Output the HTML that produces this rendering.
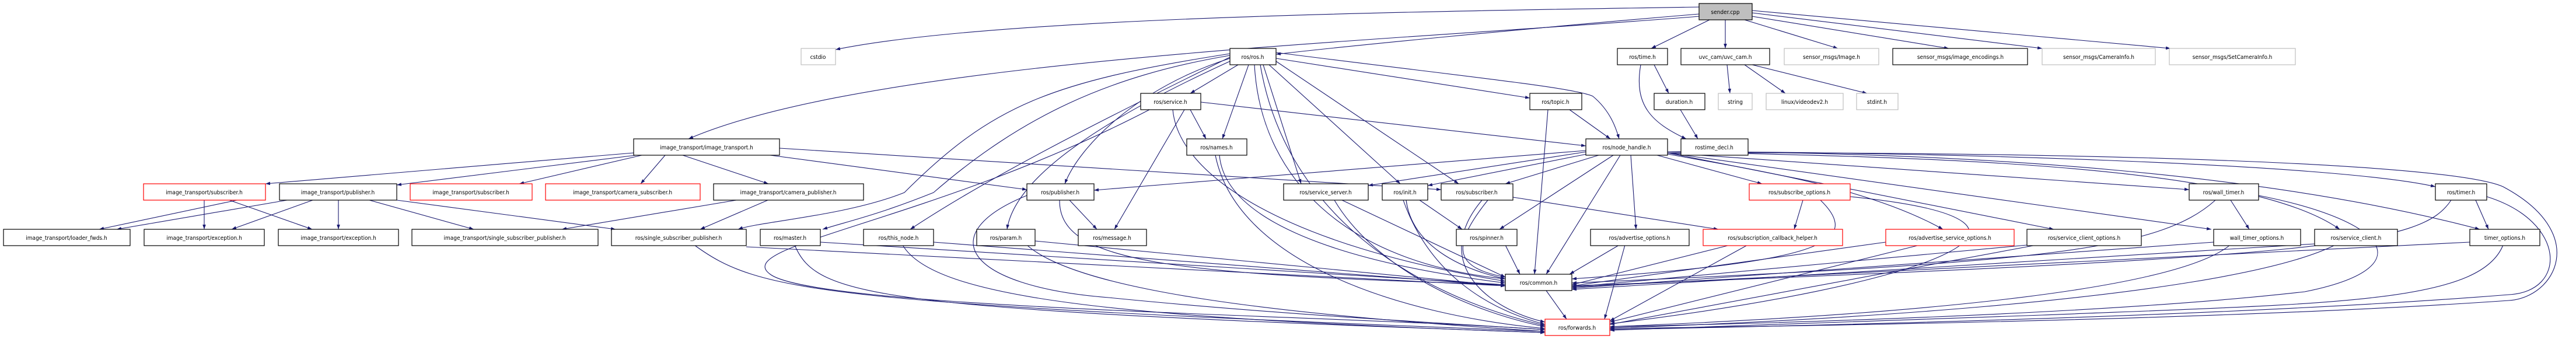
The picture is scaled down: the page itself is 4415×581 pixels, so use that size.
<!DOCTYPE html>
<html><head><meta charset="utf-8"><style>
html,body{margin:0;padding:0;background:#fff;}
svg{display:block;}
text{font-family:"DejaVu Sans Condensed","DejaVu Sans","Liberation Sans",sans-serif;font-size:10px;fill:#000;}
.e{fill:none;stroke:#191970;stroke-width:1.1;marker-end:url(#a);}
.n{fill:#fff;stroke:#000;stroke-width:1.2;}
.r{fill:#fff;stroke:#ff0000;stroke-width:1.2;}
.g{fill:#fff;stroke:#bfbfbf;stroke-width:1.2;}
</style></head><body>
<svg width="4415" height="581" viewBox="0 0 4415 581" xmlns="http://www.w3.org/2000/svg">
<defs><marker id="a" viewBox="0 0 10 7" refX="10" refY="3.5" markerWidth="8" markerHeight="6" markerUnits="userSpaceOnUse" orient="auto"><path d="M0,0 L10,3.5 L0,7 z" fill="#191970"/></marker></defs>
<g>
<path class="e" d="M2912,12 C2400,20 1700,30 1432,85"/>
<path class="e" d="M2912,24 C2600,50 2300,80 2187,93"/>
<path class="e" d="M2912,28 C2400,70 1500,100 1180,238"/>
<path class="e" d="M2930,34 L2830,83"/>
<path class="e" d="M2957,34 L2957,83"/>
<path class="e" d="M2990,34 L3150,83"/>
<path class="e" d="M3003,28 L3340,83"/>
<path class="e" d="M3003,22 L3500,83"/>
<path class="e" d="M3003,18 L3720,83"/>
<path class="e" d="M2122,111 L2040,160"/>
<path class="e" d="M2140,111 L2095,238"/>
<path class="e" d="M2108,100 C1950,150 1850,250 1825,315"/>
<path class="e" d="M2108,95 C1900,130 1750,200 1600,330 C1500,370 1450,380 1410,393"/>
<path class="e" d="M2108,98 C1900,200 1700,300 1560,393"/>
<path class="e" d="M2108,105 C1900,200 1740,300 1726,393"/>
<path class="e" d="M2108,92 C1800,140 1700,180 1550,330 C1450,370 1300,380 1265,393"/>
<path class="e" d="M2150,111 C2160,300 2300,450 2580,478"/>
<path class="e" d="M2160,111 C2200,350 2400,500 2648,558"/>
<path class="e" d="M2187,100 L2622,168"/>
<path class="e" d="M2187,90 C2500,130 2700,150 2730,165 C2760,190 2770,220 2775,238"/>
<path class="e" d="M2165,111 L2230,315"/>
<path class="e" d="M2175,111 L2400,315"/>
<path class="e" d="M2187,105 L2500,315"/>
<path class="e" d="M2058,175 L2718,250"/>
<path class="e" d="M2040,188 L2067,238"/>
<path class="e" d="M2030,188 L1910,393"/>
<path class="e" d="M2010,188 C2020,300 2200,420 2580,482"/>
<path class="e" d="M1970,188 C1600,380 1250,420 1320,470 C1400,530 2300,540 2648,565"/>
<path class="e" d="M2090,266 C2100,380 2300,450 2580,485"/>
<path class="e" d="M2083,266 C2120,450 2400,540 2648,563"/>
<path class="e" d="M1086,262 L455,315"/>
<path class="e" d="M1090,266 L680,317"/>
<path class="e" d="M1100,266 L890,315"/>
<path class="e" d="M1140,266 L1098,315"/>
<path class="e" d="M1170,266 L1317,315"/>
<path class="e" d="M1320,266 L1760,325"/>
<path class="e" d="M1336,254 L2470,325"/>
<path class="e" d="M406,343 L170,393"/>
<path class="e" d="M350,343 L350,393"/>
<path class="e" d="M393,343 L535,393"/>
<path class="e" d="M492,343 L200,393"/>
<path class="e" d="M536,343 L397,393"/>
<path class="e" d="M580,343 L580,393"/>
<path class="e" d="M633,343 L812,393"/>
<path class="e" d="M680,343 L1055,393"/>
<path class="e" d="M1262,343 L963,393"/>
<path class="e" d="M1316,343 L1200,393"/>
<path class="e" d="M1279,423 L2580,490"/>
<path class="e" d="M1190,420 C1300,500 1400,520 2648,568"/>
<path class="e" d="M1406,415 L2580,488"/>
<path class="e" d="M1362,420 C1400,510 1500,530 2648,570"/>
<path class="e" d="M1600,415 L2580,490"/>
<path class="e" d="M1547,420 C1600,510 1900,545 2648,570"/>
<path class="e" d="M1774,413 L2580,490"/>
<path class="e" d="M1760,420 C1850,500 2200,540 2648,568"/>
<path class="e" d="M1833,343 L1880,393"/>
<path class="e" d="M1816,343 C1815,450 2000,470 2580,488"/>
<path class="e" d="M1760,335 C1600,400 1650,490 1900,510 C2200,540 2500,555 2648,565"/>
<path class="e" d="M2718,258 L1875,326"/>
<path class="e" d="M2720,260 L2345,318"/>
<path class="e" d="M2720,264 L2447,318"/>
<path class="e" d="M2740,266 L2580,315"/>
<path class="e" d="M2765,266 L2570,393"/>
<path class="e" d="M2777,266 L2650,470"/>
<path class="e" d="M2795,266 L2804,393"/>
<path class="e" d="M2840,266 L3020,315"/>
<path class="e" d="M2858,264 C3000,290 3200,320 3330,393"/>
<path class="e" d="M2858,262 L3520,393"/>
<path class="e" d="M2858,262 L3752,325"/>
<path class="e" d="M2858,262 L3790,393"/>
<path class="e" d="M2858,260 C3300,270 3850,280 4010,393"/>
<path class="e" d="M2858,260 C3300,260 4000,280 4174,320"/>
<path class="e" d="M2858,260 C3400,260 3900,300 4250,393"/>
<path class="e" d="M2858,262 C3600,260 4200,280 4290,320 C4440,400 4380,510 4300,515 C3800,550 3000,560 2759,563"/>
<path class="e" d="M2690,188 L2760,238"/>
<path class="e" d="M2653,188 L2630,470"/>
<path class="e" d="M2835,111 L2860,160"/>
<path class="e" d="M2812,111 C2800,180 2830,210 2890,238"/>
<path class="e" d="M2880,188 L2910,238"/>
<path class="e" d="M2960,111 L2965,160"/>
<path class="e" d="M2990,111 L3060,160"/>
<path class="e" d="M3003,111 L3200,160"/>
<path class="e" d="M2300,343 L2580,475"/>
<path class="e" d="M2287,343 C2350,450 2500,530 2648,560"/>
<path class="e" d="M2433,343 L2506,393"/>
<path class="e" d="M2410,343 C2420,420 2500,460 2580,478"/>
<path class="e" d="M2405,343 C2450,470 2550,530 2648,556"/>
<path class="e" d="M2593,338 L2945,393"/>
<path class="e" d="M2550,343 C2480,430 2500,460 2580,475"/>
<path class="e" d="M2540,343 C2450,450 2550,530 2648,552"/>
<path class="e" d="M2580,420 L2605,470"/>
<path class="e" d="M2775,420 L2690,470"/>
<path class="e" d="M2785,420 L2750,547"/>
<path class="e" d="M3090,343 L3075,393"/>
<path class="e" d="M3120,343 C3200,420 3100,450 2694,478"/>
<path class="e" d="M3171,337 C3600,380 3300,490 2759,555"/>
<path class="e" d="M2965,420 L2694,488"/>
<path class="e" d="M2995,420 L2759,550"/>
<path class="e" d="M3232,415 L2694,490"/>
<path class="e" d="M3290,420 L2759,552"/>
<path class="e" d="M3474,420 L2694,492"/>
<path class="e" d="M3490,420 L2759,556"/>
<path class="e" d="M3823,343 L3855,393"/>
<path class="e" d="M3797,343 C3700,430 3500,450 2694,485"/>
<path class="e" d="M3871,335 C4100,380 4150,460 3950,500 C3600,540 3000,555 2759,560"/>
<path class="e" d="M3794,415 L2694,494"/>
<path class="e" d="M3822,420 C3700,520 3000,550 2759,560"/>
<path class="e" d="M3967,418 L2694,496"/>
<path class="e" d="M4002,420 C3800,520 3000,555 2759,562"/>
<path class="e" d="M4243,343 L4265,393"/>
<path class="e" d="M4201,343 C4150,420 4000,440 2694,490"/>
<path class="e" d="M4262,337 C4400,380 4400,500 4300,505 C3800,545 3000,560 2759,565"/>
<path class="e" d="M4233,415 L2694,492"/>
<path class="e" d="M4290,420 C4250,520 4000,520 3500,540 L2759,566"/>
<path class="e" d="M2650,498 L2685,547"/>
</g>
<g text-anchor="middle">
<rect x="2912" y="6" width="91" height="28" fill="#bfbfbf" stroke="#000" stroke-width="1.2"/><text x="2957" y="24">sender.cpp</text>
<rect class="g" x="1373" y="83" width="59" height="28"/><text x="1402" y="101">cstdio</text>
<rect class="n" x="2108" y="83" width="79" height="28"/><text x="2147" y="101">ros/ros.h</text>
<rect class="n" x="2772" y="83" width="86" height="28"/><text x="2815" y="101">ros/time.h</text>
<rect class="n" x="2881" y="83" width="152" height="28"/><text x="2957" y="101">uvc_cam/uvc_cam.h</text>
<rect class="g" x="3058" y="83" width="162" height="28"/><text x="3139" y="101">sensor_msgs/Image.h</text>
<rect class="n" x="3244" y="83" width="231" height="28"/><text x="3360" y="101">sensor_msgs/image_encodings.h</text>
<rect class="g" x="3500" y="83" width="194" height="28"/><text x="3597" y="101">sensor_msgs/CameraInfo.h</text>
<rect class="g" x="3718" y="83" width="216" height="28"/><text x="3826" y="101">sensor_msgs/SetCameraInfo.h</text>
<rect class="n" x="1955" y="160" width="103" height="28"/><text x="2006" y="178">ros/service.h</text>
<rect class="n" x="2622" y="160" width="89" height="28"/><text x="2666" y="178">ros/topic.h</text>
<rect class="n" x="2835" y="160" width="87" height="28"/><text x="2878" y="178">duration.h</text>
<rect class="g" x="2945" y="160" width="58" height="28"/><text x="2974" y="178">string</text>
<rect class="g" x="3027" y="160" width="132" height="28"/><text x="3093" y="178">linux/videodev2.h</text>
<rect class="g" x="3182" y="160" width="71" height="28"/><text x="3217" y="178">stdint.h</text>
<rect class="n" x="1086" y="238" width="250" height="28"/><text x="1211" y="256">image_transport/image_transport.h</text>
<rect class="n" x="2034" y="238" width="103" height="28"/><text x="2085" y="256">ros/names.h</text>
<rect class="n" x="2718" y="238" width="140" height="28"/><text x="2788" y="256">ros/node_handle.h</text>
<rect class="n" x="2881" y="238" width="115" height="28"/><text x="2938" y="256">rostime_decl.h</text>
<rect class="r" x="246" y="315" width="209" height="28"/><text x="350" y="333">image_transport/subscriber.h</text>
<rect class="n" x="479" y="315" width="201" height="28"/><text x="579" y="333">image_transport/publisher.h</text>
<rect class="r" x="703" y="315" width="209" height="28"/><text x="807" y="333">image_transport/subscriber.h</text>
<rect class="r" x="935" y="315" width="265" height="28"/><text x="1067" y="333">image_transport/camera_subscriber.h</text>
<rect class="n" x="1223" y="315" width="257" height="28"/><text x="1351" y="333">image_transport/camera_publisher.h</text>
<rect class="n" x="1760" y="315" width="115" height="28"/><text x="1817" y="333">ros/publisher.h</text>
<rect class="n" x="2200" y="315" width="145" height="28"/><text x="2272" y="333">ros/service_server.h</text>
<rect class="n" x="2369" y="315" width="78" height="28"/><text x="2408" y="333">ros/init.h</text>
<rect class="n" x="2470" y="315" width="123" height="28"/><text x="2531" y="333">ros/subscriber.h</text>
<rect class="r" x="2998" y="315" width="173" height="28"/><text x="3084" y="333">ros/subscribe_options.h</text>
<rect class="n" x="3752" y="315" width="119" height="28"/><text x="3811" y="333">ros/wall_timer.h</text>
<rect class="n" x="4174" y="315" width="88" height="28"/><text x="4218" y="333">ros/timer.h</text>
<rect class="n" x="6" y="393" width="217" height="28"/><text x="114" y="411">image_transport/loader_fwds.h</text>
<rect class="n" x="247" y="393" width="206" height="28"/><text x="350" y="411">image_transport/exception.h</text>
<rect class="n" x="477" y="393" width="206" height="28"/><text x="580" y="411">image_transport/exception.h</text>
<rect class="n" x="706" y="393" width="319" height="28"/><text x="865" y="411">image_transport/single_subscriber_publisher.h</text>
<rect class="n" x="1048" y="393" width="231" height="28"/><text x="1163" y="411">ros/single_subscriber_publisher.h</text>
<rect class="n" x="1303" y="393" width="103" height="28"/><text x="1354" y="411">ros/master.h</text>
<rect class="n" x="1480" y="393" width="120" height="28"/><text x="1540" y="411">ros/this_node.h</text>
<rect class="n" x="1674" y="393" width="100" height="28"/><text x="1724" y="411">ros/param.h</text>
<rect class="n" x="1848" y="393" width="117" height="28"/><text x="1906" y="411">ros/message.h</text>
<rect class="n" x="2496" y="393" width="104" height="28"/><text x="2548" y="411">ros/spinner.h</text>
<rect class="n" x="2726" y="393" width="169" height="28"/><text x="2810" y="411">ros/advertise_options.h</text>
<rect class="r" x="2919" y="393" width="239" height="28"/><text x="3038" y="411">ros/subscription_callback_helper.h</text>
<rect class="r" x="3232" y="393" width="220" height="28"/><text x="3342" y="411">ros/advertise_service_options.h</text>
<rect class="n" x="3474" y="393" width="196" height="28"/><text x="3572" y="411">ros/service_client_options.h</text>
<rect class="n" x="3794" y="393" width="149" height="28"/><text x="3868" y="411">wall_timer_options.h</text>
<rect class="n" x="3967" y="393" width="142" height="28"/><text x="4038" y="411">ros/service_client.h</text>
<rect class="n" x="4233" y="393" width="120" height="28"/><text x="4293" y="411">timer_options.h</text>
<rect class="n" x="2580" y="470" width="114" height="28"/><text x="2637" y="488">ros/common.h</text>
<rect class="r" x="2648" y="547" width="111" height="28"/><text x="2703" y="565">ros/forwards.h</text>
</g>
</svg>
</body></html>
